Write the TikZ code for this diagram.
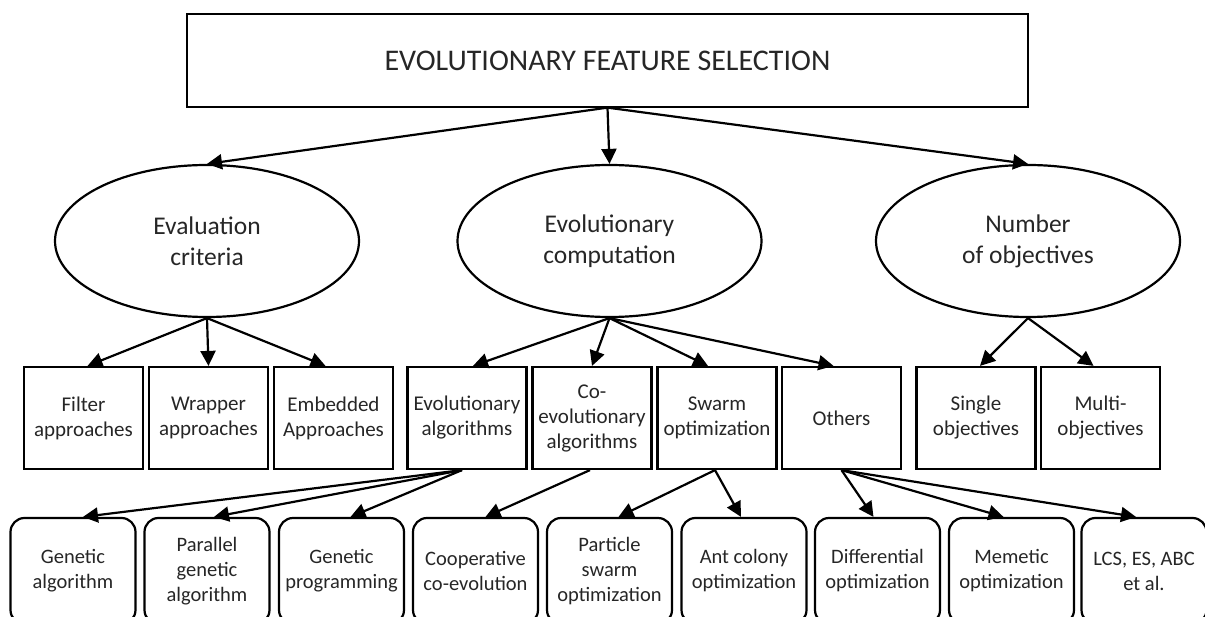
\documentclass[tikz,border=0pt]{standalone}
\usepackage{fontspec}
\setmainfont{Carlito}
\usetikzlibrary{shapes.geometric,arrows.meta}
\begin{document}
\begin{tikzpicture}[x=1pt,y=-1pt,
  every node/.style={text=black!85},
  topbox/.style={draw, line width=1.3pt, minimum width=841pt, minimum height=93pt, inner sep=0pt, font=\fontsize{30}{36}\selectfont},
  ell/.style={ellipse, draw, line width=2.2pt, minimum width=304pt, minimum height=152pt, inner sep=0pt, align=center, font=\fontsize{25.5}{31}\selectfont},
  sq/.style={rectangle, draw, line width=2.2pt, minimum width=119pt, minimum height=102pt, inner sep=0pt, align=center, font=\fontsize{21}{25}\selectfont},
  rbox/.style={rectangle, rounded corners=14pt, draw, line width=2.2pt, minimum width=125pt, minimum height=106pt, inner sep=0pt, align=center, font=\fontsize{20.5}{25}\selectfont},
  arr/.style={line width=2.2pt, -{Triangle[length=15pt,width=15pt]}},
]
\useasboundingbox (0,0) rectangle (1205,617);

\node[topbox] (top) at (607.5,60.5) {EVOLUTIONARY FEATURE SELECTION};

\node[ell] (e1) at (207,241) {Evaluation\\criteria};
\node[ell] (e2) at (609.5,241) {Evolutionary\\computation};
\node[ell] (e3) at (1028,241) {Number\\of objectives};

\node[sq] (filt) at (83.5,418) {Filter\\approaches};
\node[sq] (wrap) at (208.5,418) {Wrapper\\approaches};
\node[sq] (emb) at (333.5,418) {Embedded\\Approaches};
\node[sq] (ea) at (467,418) {Evolutionary\\algorithms};
\node[sq] (coevo) at (592,418) {Co-\\evolutionary\\algorithms};
\node[sq] (swarm) at (717,418) {Swarm\\optimization};
\node[sq] (others) at (841.5,418) {Others};
\node[sq] (single) at (976,418) {Single\\objectives};
\node[sq] (multi) at (1100.5,418) {Multi-\\objectives};

\node[rbox] (ga) at (73,571) {Genetic\\algorithm};
\node[rbox] (pga) at (207,571) {Parallel\\genetic\\algorithm};
\node[rbox] (gp) at (341.5,571) {Genetic\\programming};
\node[rbox] (coop) at (475.5,571) {Cooperative\\co-evolution};
\node[rbox] (pso) at (609.5,571) {Particle\\swarm\\optimization};
\node[rbox] (aco) at (744,571) {Ant colony\\optimization};
\node[rbox] (de) at (877.5,571) {Differential\\optimization};
\node[rbox] (mem) at (1011.5,571) {Memetic\\optimization};
\node[rbox] (lcs) at (1144,571) {LCS, ES, ABC\\et al.};

\draw[arr] (top.south) -- (e1.north);
\draw[arr] (top.south) -- (e2.north);
\draw[arr] (top.south) -- (e3.north);

\draw[arr] (e1.south) -- ([xshift=4pt]filt.north);
\draw[arr] (e1.south) -- (wrap.north);
\draw[arr] (e1.south) -- ([xshift=-8pt]emb.north);

\draw[arr] (e2.south) -- ([xshift=6pt]ea.north);
\draw[arr] (e2.south) -- (coevo.north);
\draw[arr] (e2.south) -- ([xshift=-9pt]swarm.north);
\draw[arr] (e2.south) -- ([xshift=-8pt]others.north);

\draw[arr] (e3.south) -- ([xshift=4pt]single.north);
\draw[arr] (e3.south) -- ([xshift=-7pt]multi.north);

\draw[arr] ([xshift=-5pt]ea.south) -- ([xshift=10pt]ga.north);
\draw[arr] ([xshift=-5pt]ea.south) -- ([xshift=7pt]pga.north);
\draw[arr] ([xshift=-5pt]ea.south) -- ([xshift=9pt]gp.north);
\draw[arr] ([xshift=-2pt]coevo.south) -- ([xshift=10pt]coop.north);
\draw[arr] ([xshift=-2pt]swarm.south) -- ([xshift=9pt]pso.north);
\draw[arr] ([xshift=-2pt]swarm.south) -- ([xshift=-3pt]aco.north);
\draw[arr] (others.south) -- ([xshift=-4pt]de.north);
\draw[arr] (others.south) -- ([xshift=-8pt]mem.north);
\draw[arr] (others.south) -- ([xshift=-8pt]lcs.north);
\end{tikzpicture}
\end{document}
